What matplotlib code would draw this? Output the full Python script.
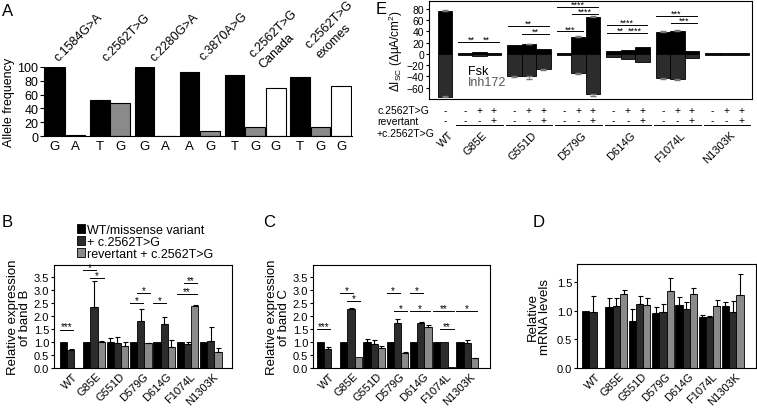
import matplotlib
matplotlib.use("Agg")
import matplotlib.pyplot as plt
import numpy as np

plt.rcParams['font.family'] = ['Liberation Sans', 'DejaVu Sans']
plt.rcParams['mathtext.fontset'] = 'custom'
plt.rcParams['mathtext.rm'] = 'Liberation Sans'
plt.rcParams['mathtext.it'] = 'Liberation Sans:italic'

W, H = 757, 414

# ===== panel A data =====
a_groups = ["c.1584G>A", "c.2562T>G", "c.2280G>A", "c.3870A>G",
            "c.2562T>G\nCanada", "c.2562T>G\nexomes"]
a_alleles = [["G", "A"], ["T", "G"], ["G", "A"], ["A", "G"],
             ["T", "G", "G"], ["T", "G", "G"]]
a_freq = [[100, 1], [52, 48], [100, 0.5], [93, 7], [88, 13, 70], [86, 13, 73]]
a_kind = [["k", "g"], ["k", "g"], ["k", "g"], ["k", "g"],
          ["k", "g", "w"], ["k", "g", "w"]]

# ===== panels B, C, D data =====
variants = ["WT", "G85E", "G551D", "D579G", "D614G", "F1074L", "N1303K"]
series_labels = ["WT/missense variant", "+ c.2562T>G", "revertant + c.2562T>G"]
nan = np.nan

b_wt = [1.0, 1.0, 1.0, 1.0, 1.0, 1.0, 1.0]
b_wt_err = [0, 0, 0.15, 0, 0, 0, 0]
b_mut = [0.68, 2.36, 0.97, 1.80, 1.68, 0.93, 1.04]
b_mut_err = [0.04, 0.97, 0.21, 0.47, 0.29, 0.07, 0.53]
b_rev = [nan, 1.0, 0.86, 0.95, 0.79, 2.40, 0.63]
b_rev_err = [nan, 0.02, 0.14, 0.01, 0.30, 0.02, 0.15]
b_sig = [(0, 0, 1, 1.48, "***"), (1, 0, 1, 3.75, "*"), (1, 1, 2, 3.45, "*"),
         (3, 0, 1, 2.49, "*"), (3, 1, 2, 2.88, "*"), (4, 0, 1, 2.49, "*"),
         (5, 0, 2, 2.86, "**"), (5, 1, 2, 3.25, "**")]

c_wt = [1.0, 1.0, 1.0, 1.0, 1.0, 1.0, 1.0]
c_wt_err = [0, 0, 0.1, 0, 0, 0, 0]
c_mut = [0.72, 2.25, 0.93, 1.72, 1.72, 1.0, 0.97]
c_mut_err = [0.07, 0.04, 0.14, 0.16, 0.06, 0, 0.09]
c_rev = [nan, 0.42, 0.78, 0.58, 1.58, 0.05, 0.37]
c_rev_err = [nan, 0, 0.07, 0.04, 0.06, 0, 0.03]
c_sig = [(0, 0, 1, 1.51, "***"), (1, 0, 1, 2.9, "*"), (1, 1, 2, 2.58, "*"),
         (3, 0, 1, 2.9, "*"), (3, 1, 2, 2.19, "*"), (4, 0, 1, 2.9, "*"),
         (4, 0, 2, 2.19, "*"), (5, 0, 2, 2.19, "**"), (5, 1, 2, 1.51, "**"),
         (6, 0, 2, 2.19, "*")]

d_wt = [1.00, 1.07, 0.81, 0.96, 1.10, 0.89, 1.08]
d_wt_err = [0, 0.14, 0.22, 0.10, 0.13, 0.04, 0.07]
d_mut = [0.98, 1.08, 1.12, 0.98, 1.02, 0.88, 0.98]
d_mut_err = [0.28, 0.14, 0.13, 0.13, 0.12, 0.03, 0.19]
d_rev = [nan, 1.28, 1.10, 1.34, 1.28, 1.08, 1.27]
d_rev_err = [nan, 0.07, 0.11, 0.22, 0.12, 0.10, 0.37]

# ===== panel E data =====
e_fsk_wt, e_inh_wt = 77, -76
e_fsk = [[1, 3, 1], [15, 17, 9], [1, 30, 65], [5, 7, 12], [39, 41, 6], [2, 1, 1]]
e_fsk_err = [[0, 0, 0], [0, 1, 0], [0, 1, 2], [0, 0, 0], [2, 2, 0], [0, 0, 0]]
e_inh = [[-1, -3, -1], [-40, -40, -27], [-1, -34, -72], [-5, -9, -14],
         [-43, -45, -7], [-2, -2, -1]]
e_inh_err = [[0, 0, 0], [1, 4, 1], [0, 2, 2], [0, 0, 0], [2, 2, 0], [0, 0, 0]]
e_sig = [(0, 0, 1, 21, "**"), (0, 1, 2, 21, "**"),
         (1, 0, 2, 50, "**"), (1, 1, 2, 36, "**"),
         (2, 0, 1, 40, "***"), (2, 0, 2, 83, "****"), (2, 1, 2, 71, "****"),
         (3, 0, 2, 52, "****"), (3, 0, 1, 37, "**"), (3, 1, 2, 37, "****"),
         (4, 0, 2, 68, "***"), (4, 1, 2, 55, "***")]
e_row1 = ["-", "+", "+"]
e_row2 = ["-", "-", "+"]

BLACK, DARK, GREY = "#000000", "#2c2c2c", "#8a8a8a"
fill = {"k": BLACK, "g": GREY, "w": "white"}


def px(l, t, r, b):
    return [l / W, 1 - b / H, (r - l) / W, (b - t) / H]


fig = plt.figure(figsize=(W / 100, H / 100), dpi=100)

# ---------------- A ----------------
axA = fig.add_axes(px(44, 68, 352, 137))
x = 0.0
a_pos = []
for grp in a_freq:
    xs = [x + k * 1.05 for k in range(len(grp))]
    a_pos.append(xs)
    x = xs[-1] + 1.25
ticks, labels = [], []
for xs, vals, kinds, alle in zip(a_pos, a_freq, a_kind, a_alleles):
    axA.bar(xs, vals, width=1.0, color=[fill[k] for k in kinds],
            edgecolor="black", linewidth=0.8)
    ticks += xs
    labels += alle
axA.set_xlim(a_pos[0][0] - 0.55, a_pos[-1][-1] + 0.55)
axA.set_ylim(0, 100)
axA.set_yticks(range(0, 101, 20))
axA.set_xticks(ticks)
axA.set_xticklabels(labels, fontsize=9.5)
axA.tick_params(axis="x", length=0, pad=3)
axA.tick_params(axis="y", labelsize=9, length=3, pad=1)
axA.spines["top"].set_visible(False)
axA.spines["right"].set_visible(False)
axA.set_ylabel("Allele frequency", fontsize=9, labelpad=2)
a_lab_y = [108, 108, 108, 110, 114, 128]
a_lab_dx = [-0.35, -0.2, 0.0, 0.2, -0.1, -0.55]
for xs, name, yy, dx in zip(a_pos, a_groups, a_lab_y, a_lab_dx):
    xc = np.mean(xs) + dx
    for li, line in enumerate(name.split("\n")):
        axA.annotate(line, xy=(xc, yy), xytext=(li * 7.5, -li * 7.5),
                     textcoords="offset points", rotation=45,
                     rotation_mode="anchor", ha="left", va="baseline",
                     fontsize=9, annotation_clip=False)


# ---------------- B, C, D ----------------
def grouped(ax, wt, wt_err, mut, mut_err, rev, rev_err):
    n = len(variants)
    base = np.arange(n) * 3.2
    handles = []
    for k, (vals, errs, col) in enumerate(
            [(wt, wt_err, BLACK), (mut, mut_err, DARK), (rev, rev_err, GREY)]):
        xs = base + k
        h = ax.bar(xs, vals, width=1.0, color=col, edgecolor="black",
                   linewidth=0.6)
        handles.append(h)
        e = np.nan_to_num(np.array(errs, dtype=float))
        v = np.array(vals, dtype=float)
        ok = e > 0
        ax.errorbar(xs[ok], v[ok], yerr=[np.zeros(ok.sum()), e[ok]],
                    fmt="none", ecolor="black", elinewidth=0.8, capsize=1.8,
                    capthick=0.8)
    ax.set_xticks(base + 1.3)
    ax.set_xticklabels(variants, rotation=45, ha="right",
                       rotation_mode="anchor", fontsize=8)
    ax.tick_params(axis="x", length=0, pad=2)
    ax.tick_params(axis="y", labelsize=8, length=2.5, pad=1)
    return handles


def sig(ax, x1, x2, y, label, fs):
    ax.plot([x1, x2], [y, y], color="black", lw=0.7)
    ax.text((x1 + x2) / 2, y - 0.02 * (ax.get_ylim()[1]), label,
            ha="center", va="bottom", fontsize=fs)


axB = fig.add_axes(px(54, 266, 232, 369))
hB = grouped(axB, b_wt, b_wt_err, b_mut, b_mut_err, b_rev, b_rev_err)
axB.set_xlim(-1.3, 23.1)
axB.set_ylim(0, 3.96)
axB.set_yticks(np.arange(0, 3.6, 0.5))
axB.set_yticklabels([f"{t:.1f}" for t in np.arange(0, 3.6, 0.5)])
axB.set_ylabel("Relative expression\nof band B", fontsize=9.5, labelpad=2,
               linespacing=1.0)
for g, k1, k2, y, lab in b_sig:
    sig(axB, g * 3.2 + k1 - 0.5, g * 3.2 + k2 + 0.3, y, lab, 7)
axB.legend(hB, series_labels, loc="lower left", bbox_to_anchor=(0.12, 1.04),
           frameon=False, fontsize=9, handlelength=0.7, handleheight=0.7,
           handletextpad=0.15, labelspacing=0.0, borderaxespad=0,
           borderpad=0.1)

axC = fig.add_axes(px(313, 266, 490, 369))
grouped(axC, c_wt, c_wt_err, c_mut, c_mut_err, c_rev, c_rev_err)
axC.set_xlim(-1.0, 23.3)
axC.set_ylim(0, 3.96)
axC.set_yticks(np.arange(0, 3.6, 0.5))
axC.set_yticklabels([f"{t:.1f}" for t in np.arange(0, 3.6, 0.5)])
axC.set_ylabel("Relative expression\nof band C", fontsize=9.5, labelpad=2,
               linespacing=1.0)
for g, k1, k2, y, lab in c_sig:
    sig(axC, g * 3.2 + k1 - 0.5, g * 3.2 + k2 + 0.3, y, lab, 7)

axD = fig.add_axes(px(577, 265, 756, 369))
grouped(axD, d_wt, d_wt_err, d_mut, d_mut_err, d_rev, d_rev_err)
axD.set_xlim(-1.2, 23.4)
axD.set_ylim(0, 1.81)
axD.set_yticks([0, 0.5, 1.0, 1.5])
axD.set_yticklabels(["0.0", "0.5", "1.0", "1.5"])
axD.set_ylabel("Relative\nmRNA levels", fontsize=9.5, labelpad=4,
               linespacing=1.0)

# ---------------- E ----------------
axE = fig.add_axes(px(429, 2, 752, 100))
e_x = [[1.38 + 3.41 * g + k for k in range(3)] for g in range(len(e_fsk))]
axE.bar([0], [e_fsk_wt], width=1.0, color=BLACK, edgecolor="black", lw=0.6)
axE.bar([0], [e_inh_wt], width=1.0, color=DARK, edgecolor="black", lw=0.6)
axE.errorbar([0, 0], [e_fsk_wt, e_inh_wt], yerr=[1, 1], fmt="none",
             ecolor="#777777", elinewidth=0.6, capsize=2)
for xs, f, fe, ih, ie in zip(e_x, e_fsk, e_fsk_err, e_inh, e_inh_err):
    axE.bar(xs, f, width=1.0, color=BLACK, edgecolor="black", lw=0.6)
    axE.bar(xs, ih, width=1.0, color=DARK, edgecolor="black", lw=0.6)
    for xx, v, e in zip(xs, f, fe):
        if e > 0:
            axE.errorbar([xx], [v], yerr=[[0], [e]], fmt="none",
                         ecolor="#777777", elinewidth=0.6, capsize=2)
    for xx, v, e in zip(xs, ih, ie):
        if e > 0:
            axE.errorbar([xx], [v], yerr=[[e], [0]], fmt="none",
                         ecolor="#777777", elinewidth=0.6, capsize=2)
for g, k1, k2, y, lab in e_sig:
    x1 = e_x[g][k1] - 0.45
    x2 = e_x[g][k2] + 0.35
    axE.plot([x1, x2], [y, y], color="black", lw=0.7)
    axE.text((x1 + x2) / 2, y - 3.5, lab, ha="center", va="bottom", fontsize=6.5)
axE.set_xlim(-1.1, 21.17)
axE.set_ylim(-80, 94)
axE.set_yticks(range(-60, 81, 20))
axE.set_xticks([])
axE.tick_params(axis="y", labelsize=7.5, length=2.5, pad=1)
axE.set_ylabel(r"ΔI$_{\rm SC}$ (ΔμA/cm$^2$)", fontsize=8.5, labelpad=1)
axE.text(1.6, -36, "Fsk", fontsize=9, color="black")
axE.text(1.6, -56, "Inh172", fontsize=9, color="#555555")

tr = axE.get_xaxis_transform()
axE.text(0, -0.112, "-", transform=tr, ha="center", va="center", fontsize=7.5)
axE.text(0, -0.214, "-", transform=tr, ha="center", va="center", fontsize=7.5)
axE.text(0.25, -0.31, "WT", transform=tr, rotation=45, ha="right", va="top",
         rotation_mode="anchor", fontsize=8)
for g, xs in enumerate(e_x):
    for xx, s1, s2 in zip(xs, e_row1, e_row2):
        axE.text(xx, -0.112, s1, transform=tr, ha="center", va="center",
                 fontsize=7.5)
        axE.text(xx, -0.214, s2, transform=tr, ha="center", va="center",
                 fontsize=7.5)
    axE.plot([xs[0] - 0.6, xs[2] + 0.6], [-0.265, -0.265], transform=tr,
             color="black", lw=0.7, clip_on=False)
    axE.text(xs[1] + 0.2, -0.31, variants[g + 1], transform=tr, rotation=45,
             ha="right", va="top", rotation_mode="anchor", fontsize=8)
fig.text(377 / W, 1 - 111 / H, "c.2562T>G", fontsize=7.5, va="center")
fig.text(377 / W, 1 - 122 / H, "revertant", fontsize=7.5, va="center")
fig.text(377 / W, 1 - 134 / H, "+c.2562T>G", fontsize=7.5, va="center")

# panel letters
for lab, xx, yy in [("A", 2, 16), ("B", 2, 227), ("C", 263, 227),
                    ("D", 533, 227), ("E", 376, 14)]:
    fig.text(xx / W, 1 - yy / H, lab, fontsize=12, ha="left", va="baseline")

fig.savefig("out.png", dpi=100)
